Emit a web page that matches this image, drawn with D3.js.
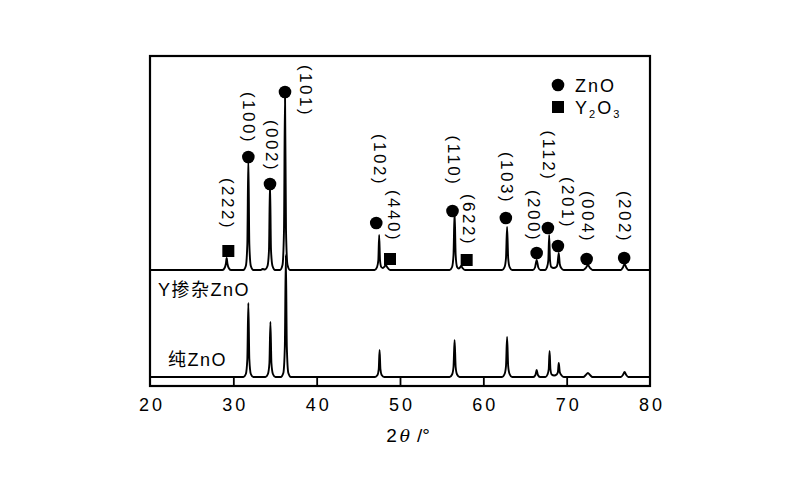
<!DOCTYPE html>
<html><head><meta charset="utf-8">
<script src="https://cdn.jsdelivr.net/npm/d3@7"></script>
<style>body{margin:0;background:#fff} svg{display:block}</style>
</head><body><svg id="c" width="800" height="500"></svg>
<script>
// ---------- data ----------
const xTicks = [20, 30, 40, 50, 60, 70, 80];

// pure ZnO pattern: [2theta, intensity a.u.]
const pureZnO = [
  [20,0],[31.2,0],[31.5,3],[31.68,18],[31.8,74],[31.92,18],[32.1,3],[32.4,0],
  [33.85,0],[34.15,3],[34.33,14],[34.45,55],[34.57,14],[34.75,3],[35.05,0],
  [35.7,0],[36.0,4],[36.18,30],[36.3,122],[36.42,30],[36.6,4],[36.9,0],
  [47.0,0],[47.3,2],[47.45,8],[47.55,27],[47.65,8],[47.8,2],[48.1,0],
  [55.95,0],[56.25,2.5],[56.42,10],[56.55,37],[56.68,10],[56.85,2.5],[57.15,0],
  [62.25,0],[62.55,3],[62.72,11],[62.85,40],[62.98,11],[63.15,3],[63.45,0],
  [66.0,0],[66.25,2],[66.4,7],[66.55,2],[66.8,0],
  [67.45,0],[67.7,2.5],[67.85,8],[67.95,26],[68.05,8],[68.2,2.5],[68.5,1.5],
  [68.8,2.5],[68.95,5],[69.05,14],[69.17,5],[69.35,2],[69.65,0],
  [72.0,0],[72.3,2],[72.55,4],[72.8,2],[73.1,0],
  [76.5,0],[76.75,2],[76.95,5],[77.15,2],[77.4,0],[80,0]
];

// Y-doped ZnO pattern: [2theta, intensity a.u.] (drawn with an offset)
const dopedZnO = [
  [20,0],[28.7,0],[28.95,2],[29.1,6],[29.2,12],[29.3,6],[29.45,2],[29.7,0],
  [31.2,0],[31.5,4],[31.68,26],[31.8,112],[31.92,26],[32.1,4],[32.4,0],
  [33.3,0],[33.5,1],[33.8,0.5],[34.1,4],[34.28,20],[34.4,88],[34.52,20],[34.7,4],[35.0,0],
  [35.6,0],[35.9,5],[36.08,40],[36.2,178],[36.32,40],[36.5,5],[36.8,0],
  [46.95,0],[47.25,3],[47.4,10],[47.5,35],[47.6,10],[47.75,3],[47.95,2],
  [48.15,3.5],[48.3,5],[48.45,3],[48.8,0],
  [55.95,0],[56.25,3],[56.42,15],[56.55,58],[56.68,15],[56.85,3],[57.05,1.5],
  [57.2,2.5],[57.35,4],[57.5,2],[57.8,0],
  [62.25,0],[62.55,3],[62.72,12],[62.85,43],[62.98,12],[63.15,3],[63.45,0],
  [65.95,0],[66.2,2.5],[66.4,10],[66.6,2.5],[66.85,0],
  [67.4,0],[67.65,3],[67.8,10],[67.9,35],[68.0,10],[68.15,3],[68.45,2],
  [68.75,3],[68.9,6],[69.05,17],[69.17,6],[69.35,2],[69.65,0],
  [72.0,0],[72.3,2],[72.55,5],[72.8,2],[73.1,0],
  [76.5,0],[76.75,2.5],[76.95,6],[77.15,2.5],[77.4,0],[80,0]
];
const dopedOffset = 107;

// phase markers: [2theta, intensity]
const znoMarkers = [[31.8,220],[34.4,193],[36.2,285],[47.15,154],[56.3,166],[62.7,159],
  [66.4,124],[67.75,149],[68.95,131],[72.4,118],[76.9,119]];
const y2o3Markers = [[29.4,126],[48.8,118],[58.0,117]];

// peak labels: [text, 2theta, intensity]
const peakLabels = [
  ["(222)",29.24,173],["(100)",31.76,259],["(002)",34.52,231],["(101)",38.68,286],
  ["(102)",47.48,217],["(440)",49.16,161],["(110)",56.36,216],["(622)",58.16,157],
  ["(103)",62.72,199],["(200)",65.96,161],["(112)",67.76,221],["(201)",70.04,174],
  ["(004)",72.44,160],["(202)",76.88,160]
];
const seriesLabels = [["Y掺杂ZnO",20.96,87],["纯ZnO",22.16,17]];
const legendItems = [["ZnO","circle",68.96,292],["Y2O3","square",68.96,270]];

// ---------- drawing ----------
const svg = d3.select("#c");
const x = d3.scaleLinear().domain([20,80]).range([150,650]);
const y = d3.scaleLinear().domain([-9,321]).range([386,56]);
const latin = "'Liberation Sans', Arial, 'Noto Sans CJK SC', sans-serif";

const line = d3.line().x(d=>x(d[0])).y(d=>y(d[1])).curve(d3.curveMonotoneX);

svg.append("path").datum(pureZnO).attr("d", line)
  .attr("fill","none").attr("stroke","#000").attr("stroke-width",1.9).attr("stroke-linejoin","round");
svg.append("path").datum(dopedZnO.map(d=>[d[0], d[1]+dopedOffset])).attr("d", line)
  .attr("fill","none").attr("stroke","#000").attr("stroke-width",1.9).attr("stroke-linejoin","round");

// frame
svg.append("rect").attr("x",x(20)).attr("y",y(321)).attr("width",x(80)-x(20)).attr("height",y(-9)-y(321))
  .attr("fill","none").attr("stroke","#000").attr("stroke-width",2.2);

// x axis
const ax = svg.append("g").attr("transform",`translate(0,${y(-9)})`)
  .call(d3.axisBottom(x).tickValues(xTicks).tickFormat(d3.format("d")).tickSize(-9).tickPadding(12));
ax.select(".domain").remove();
ax.selectAll(".tick line").attr("stroke","#000").attr("stroke-width",1.8)
  .filter(d=>d===20||d===80).remove();
ax.selectAll(".tick text").attr("font-family",latin).attr("font-size",18)
  .attr("letter-spacing","3px").attr("fill","#000").attr("dx","1.5px");

// x title
const tt = svg.append("text").attr("x",408).attr("y",442).attr("text-anchor","middle")
  .attr("font-family",latin).attr("font-size",19).attr("fill","#000");
tt.append("tspan").text("2");
tt.append("tspan").attr("font-style","italic").attr("font-family","'DejaVu Serif', serif").attr("font-size",17).attr("dx","3px").text("θ");
tt.append("tspan").attr("dx","7px").text("/°");

// markers
svg.selectAll("circle.zno").data(znoMarkers).join("circle").attr("class","zno")
  .attr("cx",d=>x(d[0])).attr("cy",d=>y(d[1])).attr("r",6.3).attr("fill","#000");
const sq = 12;
svg.selectAll("rect.y2o3").data(y2o3Markers).join("rect").attr("class","y2o3")
  .attr("x",d=>x(d[0])-sq/2).attr("y",d=>y(d[1])-sq/2).attr("width",sq).attr("height",sq).attr("fill","#000");

// peak labels (rotated)
svg.selectAll("text.pk").data(peakLabels).join("text").attr("class","pk")
  .attr("transform",d=>`translate(${x(d[1])},${y(d[2])}) rotate(90)`)
  .attr("text-anchor","middle").attr("dominant-baseline","central")
  .attr("font-family",latin).attr("font-size",17).attr("letter-spacing","2.5px").attr("fill","#000")
  .text(d=>d[0]);

// series labels
svg.selectAll("text.sl").data(seriesLabels).join("text").attr("class","sl")
  .attr("x",d=>x(d[1])).attr("y",d=>y(d[2])).attr("dominant-baseline","central")
  .attr("font-family",latin).attr("font-size",18).attr("letter-spacing","1.5px").attr("fill","#000")
  .text(d=>d[0]);

// legend
legendItems.forEach(([name,shape,t,i])=>{
  const cx = x(t), cy = y(i);
  if (shape==="circle") svg.append("circle").attr("cx",cx).attr("cy",cy).attr("r",6.3).attr("fill","#000");
  else svg.append("rect").attr("x",cx-6).attr("y",cy-6).attr("width",12).attr("height",12).attr("fill","#000");
  const tx = svg.append("text").attr("x",cx+17).attr("y",cy+6.5)
    .attr("font-family",latin).attr("font-size",18).attr("letter-spacing","2px").attr("fill","#000");
  if (name==="Y2O3") {
    tx.append("tspan").text("Y");
    tx.append("tspan").attr("font-size",11).attr("dy",4).text("2");
    tx.append("tspan").attr("dy",-4).text("O");
    tx.append("tspan").attr("font-size",11).attr("dy",4).text("3");
  } else tx.text(name);
});
</script></body></html>
